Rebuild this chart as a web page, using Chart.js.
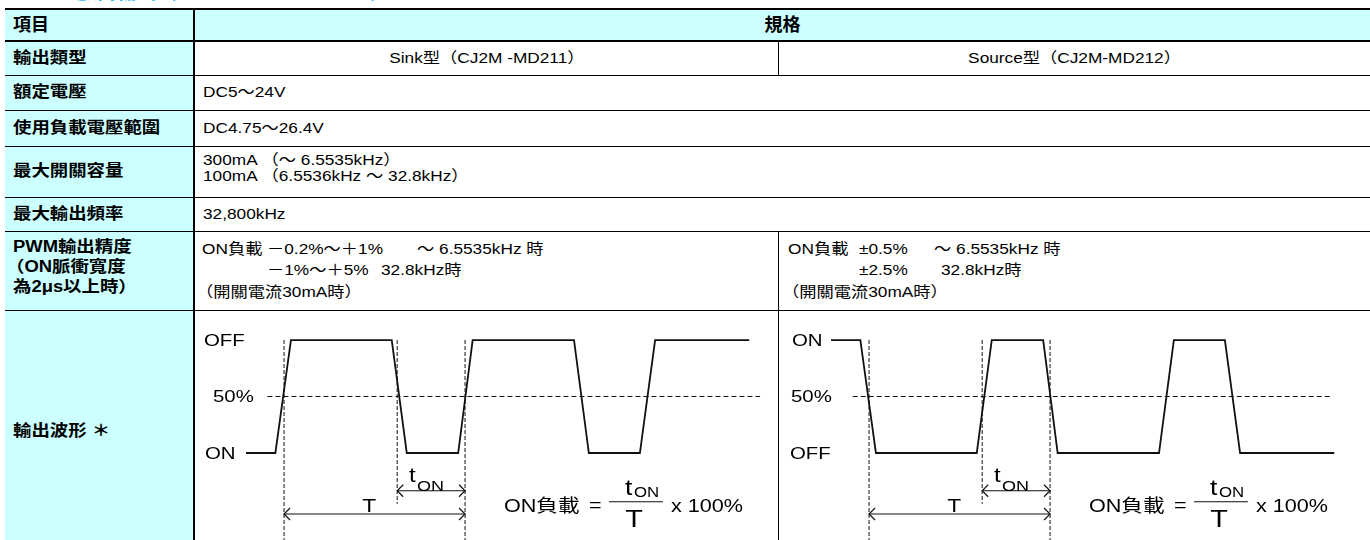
<!DOCTYPE html>
<html lang="zh-Hant">
<head>
<meta charset="utf-8">
<title>輸出規格</title>
<script src="https://cdn.jsdelivr.net/npm/chart.js@4.4.1/dist/chart.umd.min.js"></script>
<style>
  html, body { margin: 0; padding: 0; background: #fff; }
  body {
    width: 1370px; height: 540px; overflow: hidden; position: relative;
    font-family: "Liberation Sans", Arial, "Noto Sans CJK TC", sans-serif; color: #000;
  }
  .bg { position: absolute; background: #ccffff; }
  .hl { position: absolute; left: 5px; width: 1365px; height: 1px; background: #000; }
  .vl { position: absolute; width: 1px; background: #000; }
  .tx { position: absolute; height: 20px; line-height: 20px; white-space: pre; font-size: 15px; }
  .tx span { display: inline-block; transform: scaleX(1.15); transform-origin: left center; }
  .tx.c { text-align: center; }
  .tx.c span { transform-origin: center center; }
  .lb { font-weight: bold; font-size: 16px; }
  .hd { font-weight: bold; font-size: 18px; }
  .hd span { transform: none; }
  .title {
    position: absolute; left: 0; top: -18px; line-height: 20px; white-space: nowrap;
    font-size: 20px; font-weight: bold; color: #14b4ec;
  }
  canvas { position: absolute; top: 311px; }
</style>
</head>
<body>
<div class="title">● CJ2M 脈衝輸出（CJ2M-MD211/MD212）</div>

<!-- cell backgrounds -->
<div class="bg" style="left:5px;top:10px;width:1365px;height:30px"></div>
<div class="bg" style="left:5px;top:42px;width:188px;height:498px"></div>

<!-- grid -->
<div class="hl" style="top:8px;height:2px"></div>
<div class="hl" style="top:40px;height:2px"></div>
<div class="hl" style="top:75px"></div>
<div class="hl" style="top:110px"></div>
<div class="hl" style="top:146px"></div>
<div class="hl" style="top:197px"></div>
<div class="hl" style="top:231px"></div>
<div class="hl" style="top:310px"></div>
<div class="vl" style="left:193px;top:10px;height:530px;width:2px"></div>
<div class="vl" style="left:778px;top:42px;height:33px"></div>
<div class="vl" style="left:778px;top:231px;height:309px"></div>

<!-- header -->
<div class="tx hd" style="left:13px;top:15px"><span>項目</span></div>
<div class="tx hd c" style="left:195px;width:1175px;top:15px"><span>規格</span></div>

<!-- rows -->
<div class="tx lb" style="left:13px;top:48px"><span>輸出類型</span></div>
<div class="tx c" style="left:195px;width:583px;top:48px"><span>Sink型（CJ2M -MD211）</span></div>
<div class="tx c" style="left:779px;width:591px;top:48px"><span>Source型（CJ2M-MD212）</span></div>

<div class="tx lb" style="left:13px;top:82px"><span>額定電壓</span></div>
<div class="tx" style="left:203px;top:82px"><span>DC5～24V</span></div>

<div class="tx lb" style="left:13px;top:118px"><span>使用負載電壓範圍</span></div>
<div class="tx" style="left:203px;top:118px"><span>DC4.75～26.4V</span></div>

<div class="tx lb" style="left:13px;top:161px"><span>最大開關容量</span></div>
<div class="tx" style="left:203px;top:150px"><span>300mA （～ 6.5535kHz）</span></div>
<div class="tx" style="left:203px;top:166px"><span>100mA （6.5536kHz ～ 32.8kHz）</span></div>

<div class="tx lb" style="left:13px;top:204px"><span>最大輸出頻率</span></div>
<div class="tx" style="left:203px;top:204px"><span>32,800kHz</span></div>

<div class="tx lb" style="left:13px;top:237px"><span>PWM輸出精度</span></div>
<div class="tx lb" style="left:6px;top:257px"><span>（ON脈衝寬度</span></div>
<div class="tx lb" style="left:13px;top:277px"><span>為2μs以上時）</span></div>

<div class="tx" style="left:202px;top:239px"><span>ON負載</span></div>
<div class="tx" style="left:267px;top:239px"><span>－0.2%～＋1%</span></div>
<div class="tx" style="left:417px;top:239px"><span>～ 6.5535kHz 時</span></div>
<div class="tx" style="left:267px;top:260px"><span>－1%～＋5%</span></div>
<div class="tx" style="left:381px;top:260px"><span>32.8kHz時</span></div>
<div class="tx" style="left:196px;top:282px"><span>（開關電流30mA時）</span></div>

<div class="tx" style="left:788px;top:239px"><span>ON負載</span></div>
<div class="tx" style="left:859px;top:239px"><span>±0.5%</span></div>
<div class="tx" style="left:934px;top:239px"><span>～ 6.5535kHz 時</span></div>
<div class="tx" style="left:859px;top:260px"><span>±2.5%</span></div>
<div class="tx" style="left:941px;top:260px"><span>32.8kHz時</span></div>
<div class="tx" style="left:782px;top:282px"><span>（開關電流30mA時）</span></div>

<div class="tx lb" style="left:13px;top:421px"><span>輸出波形 ＊</span></div>

<canvas id="sinkWave" width="586" height="229" style="left:195px"></canvas>
<canvas id="sourceWave" width="586" height="229" style="left:780px"></canvas>

<script>
// time axis in units of T/10, level 1 = upper line, 0 = lower line
const WAVE_T = [-2.1, -0.48, 0.38, 5.95, 6.78, 9.62, 10.42, 16.02, 16.84, 19.66, 20.5, 25.7]
const SINK_LEVEL = [0, 0, 1, 1, 0, 0, 1, 1, 0, 0, 1, 1]
const SOURCE_LEVEL = [1, 1, 0, 0, 1, 1, 0, 0, 1, 1, 0, 0]

const LEVELS = [1, 0.5, 0]
const SINK_LABELS = ['OFF', '50%', 'ON']
const SOURCE_LABELS = ['ON', '50%', 'OFF']

const SINK_MID = [-0.92, 26.3]
const SOURCE_MID = [-0.9, 25.5]

// dashed markers at the 50% crossings
const MARK_T = [0, 6.25, 10]
const MARK_BOTTOM = [-0.8, -0.45, -0.8]

// dimension arrows: t_ON and T
const ARROW_FROM = [6.25, 0]
const ARROW_TO = [10, 10]
const ARROW_LEVEL = [-0.334, -0.54]

const FORMULA_T = 12.15
const FORMULA_LEVEL = -0.52

const SX = 1.2
const FONT = '"Liberation Sans", Arial, "Noto Sans CJK TC", sans-serif'
const PX_PER_UNIT = 18.1

const text = (ctx, str, x, y, size, align = 'left', baseline = 'alphabetic') => {
  ctx.save()
  ctx.font = `${size}px ${FONT}`
  ctx.textAlign = align
  ctx.textBaseline = baseline
  ctx.fillStyle = '#000'
  ctx.translate(x, y)
  ctx.scale(SX, 1)
  ctx.fillText(str, 0, 0)
  ctx.restore()
}

const chevron = (ctx, x, y, dir) => {
  ctx.beginPath()
  ctx.moveTo(x - dir * 6, y - 6)
  ctx.lineTo(x, y)
  ctx.lineTo(x - dir * 6, y + 6)
  ctx.stroke()
}

const annotations = {
  id: 'annotations',
  afterDatasetsDraw(chart, args, opts) {
    const { ctx } = chart
    const x = chart.scales.x
    const y = chart.scales.y

    // level labels on the left
    opts.labels.forEach((lbl, i) => {
      text(ctx, lbl, chart.chartArea.left + opts.labelX[i], y.getPixelForValue(LEVELS[i]) + 1, 17, 'left', 'middle')
    })

    // arrow heads
    ctx.save()
    ctx.strokeStyle = '#111'
    ctx.lineWidth = 1.2
    ARROW_FROM.forEach((from, i) => {
      const ay = y.getPixelForValue(ARROW_LEVEL[i])
      chevron(ctx, x.getPixelForValue(from), ay, -1)
      chevron(ctx, x.getPixelForValue(ARROW_TO[i]), ay, 1)
    })
    ctx.restore()

    // t_ON over its arrow, T over its arrow
    const tonMid = x.getPixelForValue((ARROW_FROM[0] + ARROW_TO[0]) / 2)
    const tonY = y.getPixelForValue(ARROW_LEVEL[0])
    text(ctx, 't', tonMid - 22, tonY - 9, 20)
    text(ctx, 'ON', tonMid - 14, tonY, 15)
    text(ctx, 'T', x.getPixelForValue(4.7), y.getPixelForValue(ARROW_LEVEL[1]) - 2, 19, 'center')

    // ON負載 = t_ON / T x 100%
    const fx = x.getPixelForValue(FORMULA_T)
    const by = y.getPixelForValue(FORMULA_LEVEL)
    text(ctx, 'ON負載', fx, by, 18)
    text(ctx, '=', fx + 85, by - 1, 18)
    ctx.save()
    ctx.strokeStyle = '#111'
    ctx.lineWidth = 1.2
    ctx.beginPath()
    ctx.moveTo(fx + 105, by - 10)
    ctx.lineTo(fx + 159, by - 10)
    ctx.stroke()
    ctx.restore()
    text(ctx, 't', fx + 121, by - 17, 22)
    text(ctx, 'ON', fx + 130, by - 15, 14)
    text(ctx, 'T', fx + 130, by + 15, 24, 'center')
    text(ctx, 'x 100%', fx + 167, by, 18)
  }
}

function makeWave(canvasId, levels, labels, labelX, midSpan) {
  const canvas = document.getElementById(canvasId)
  const wave = WAVE_T.map((t, i) => ({ x: t, y: levels[i] }))
  const mid = midSpan.map(t => ({ x: t, y: 0.5 }))
  const marks = []
  MARK_T.forEach((t, i) => {
    marks.push({ x: t, y: 1 }, { x: t, y: MARK_BOTTOM[i] }, { x: t, y: null })
  })
  const arrows = []
  ARROW_FROM.forEach((from, i) => {
    arrows.push({ x: from, y: ARROW_LEVEL[i] }, { x: ARROW_TO[i], y: ARROW_LEVEL[i] }, { x: from, y: null })
  })

  const line = (data, extra) => ({
    data,
    borderColor: '#111',
    borderWidth: 1,
    pointRadius: 0,
    fill: false,
    tension: 0,
    spanGaps: false,
    ...extra
  })

  const minT = -4.92
  return new Chart(canvas, {
    type: 'line',
    data: {
      datasets: [
        line(mid, { borderDash: [5, 3] }),
        line(marks, { borderDash: [4, 2] }),
        line(arrows, { borderWidth: 1.2 }),
        line(wave, { borderWidth: 1.8, borderColor: '#111' })
      ]
    },
    options: {
      responsive: false,
      animation: false,
      layout: { padding: 0 },
      plugins: {
        legend: { display: false },
        tooltip: { enabled: false },
        annotations: { labels, labelX }
      },
      scales: {
        x: { type: 'linear', display: false, min: minT, max: minT + canvas.width / PX_PER_UNIT },
        y: { type: 'linear', display: false, min: -0.77, max: 1.257 }
      }
    },
    plugins: [annotations]
  })
}

makeWave('sinkWave', SINK_LEVEL, SINK_LABELS, [9, 18, 10], SINK_MID)
makeWave('sourceWave', SOURCE_LEVEL, SOURCE_LABELS, [12, 11, 10], SOURCE_MID)
</script>
</body>
</html>
